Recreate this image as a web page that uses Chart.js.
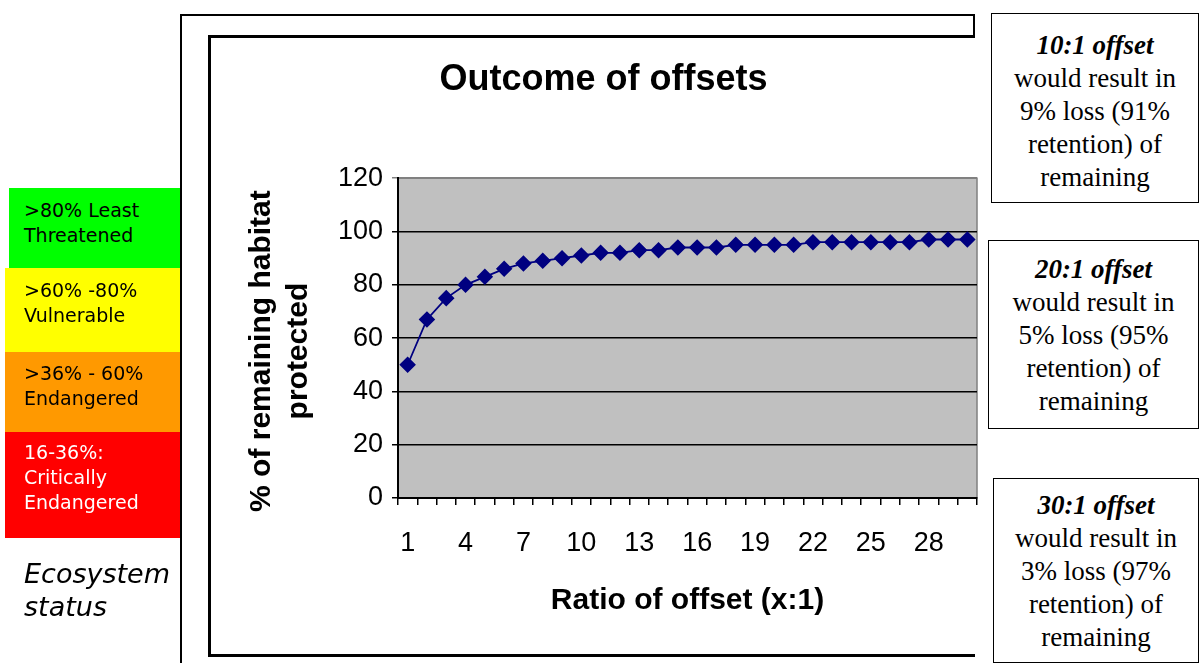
<!DOCTYPE html>
<html>
<head>
<meta charset="utf-8">
<script src="https://cdn.jsdelivr.net/npm/chart.js@4.4.0/dist/chart.umd.min.js"></script>
<style>
  html, body { margin: 0; padding: 0; background: #fff; }
  body { width: 1199px; height: 663px; position: relative; overflow: hidden; }
  #chart { position: absolute; left: 0; top: 0; z-index: 2; }
  .line { position: absolute; background: #000; z-index: 1; }
  .status { position: absolute; left: 5px; width: 175px; box-sizing: border-box; padding-left: 19px;
    font-family: "DejaVu Sans", "Open Sans", sans-serif; font-size: 19px; line-height: 25px; color: #000; z-index: 3; }
  .eco { position: absolute; left: 24px; top: 557px; font-family: "DejaVu Sans", "Open Sans", sans-serif;
    font-style: italic; font-size: 27px; line-height: 33px; z-index: 3; }
  .note { position: absolute; border: 1.5px solid #000; background: #fff; box-sizing: border-box; text-align: center;
    font-family: "Liberation Serif", "Times New Roman", serif; font-size: 27px; line-height: 33px; z-index: 3; }
  .note i { font-weight: bold; }
</style>
</head>
<body>
<div class="line" style="left:180px; top:14px; width:1.5px; height:649px;"></div>
<div class="line" style="left:180px; top:14px; width:795px; height:1.5px;"></div>
<div class="line" style="left:973px; top:14px; width:1.5px; height:23px;"></div>
<div class="line" style="left:208px; top:35px; width:3px; height:622px;"></div>
<div class="line" style="left:208px; top:35px; width:767px; height:3px;"></div>
<div class="line" style="left:208px; top:654px; width:767px; height:3px;"></div>

<div class="status" style="left:9px; width:171px; top:188px; height:81px; background:#00ff00; padding-left:15px; padding-top:10px;">&gt;80% Least<br>Threatened</div>
<div class="status" style="top:268px; height:84px; background:#ffff00; padding-top:10px;">&gt;60% -80%<br>Vulnerable</div>
<div class="status" style="top:352px; height:80px; background:#ff9900; padding-top:9px;">&gt;36% - 60%<br>Endangered</div>
<div class="status" style="top:432px; height:106px; background:#ff0000; color:#fff; padding-top:8px;">16-36%:<br>Critically<br>Endangered</div>
<div class="eco">Ecosystem<br>status</div>

<div class="note" style="left:991px; top:13px; width:208px; height:190px; padding-top:15px;"><i>10:1 offset</i><br>would result in<br>9% loss (91%<br>retention) of<br>remaining</div>
<div class="note" style="left:988px; top:240px; width:211px; height:189px; padding-top:12px;"><i>20:1 offset</i><br>would result in<br>5% loss (95%<br>retention) of<br>remaining</div>
<div class="note" style="left:993px; top:478px; width:206px; height:185px; padding-top:10px;"><i>30:1 offset</i><br>would result in<br>3% loss (97%<br>retention) of<br>remaining</div>

<canvas id="chart" width="1199" height="663"></canvas>
<script>
// values
const ratios = ['1','2','3','4','5','6','7','8','9','10','11','12','13','14','15',
  '16','17','18','19','20','21','22','23','24','25','26','27','28','29','30'];
const protectedPct = [50, 67, 75, 80, 83, 86, 88, 89, 90, 91, 92, 92, 93, 93, 94,
  94, 94, 95, 95, 95, 95, 96, 96, 96, 96, 96, 96, 97, 97, 97];
const yTicks = [0, 20, 40, 60, 80, 100, 120];
const yTitle = ['% of remaining habitat', 'protected'];

const FONT = '"Liberation Sans", Arial, sans-serif';
Chart.defaults.font.family = FONT;
Chart.defaults.color = '#000';

const plotBg = {
  id: 'plotBg',
  beforeDraw(chart) {
    const a = chart.chartArea, ctx = chart.ctx;
    ctx.save();
    ctx.fillStyle = '#c0c0c0';
    ctx.fillRect(a.left, a.top, a.right - a.left, a.bottom - a.top);
    ctx.strokeStyle = '#808080';
    ctx.lineWidth = 1.5;
    ctx.strokeRect(a.left, a.top, a.right - a.left, a.bottom - a.top);
    ctx.restore();
  }
};

// y axis title, sits a little below the plot's middle like the original
const yAxisTitle = {
  id: 'yAxisTitle',
  afterDraw(chart) {
    const a = chart.chartArea, ctx = chart.ctx;
    const cy = (a.top + a.bottom) / 2 + 13;
    ctx.save();
    ctx.font = 'bold 30px ' + FONT;
    ctx.fillStyle = '#000';
    ctx.textAlign = 'center';
    ctx.textBaseline = 'middle';
    yTitle.forEach((t, i) => {
      ctx.save();
      ctx.translate(a.left - 136 + i * 37, cy);
      ctx.rotate(-Math.PI / 2);
      ctx.fillText(t, 0, 0);
      ctx.restore();
    });
    ctx.restore();
  }
};

new Chart(document.getElementById('chart'), {
  type: 'line',
  data: {
    labels: ratios,
    datasets: [{
      data: protectedPct,
      borderColor: '#000080',
      backgroundColor: '#000080',
      borderWidth: 1.8,
      pointStyle: 'rectRot',
      pointRadius: 7,
      pointHoverRadius: 7,
      tension: 0
    }]
  },
  options: {
    responsive: false,
    animation: false,
    layout: { padding: { left: 230, right: 222, top: 50, bottom: 40 } },
    plugins: {
      legend: { display: false },
      tooltip: { enabled: false },
      title: {
        display: true,
        text: 'Outcome of offsets',
        color: '#000',
        font: { size: 36, weight: 'bold' },
        padding: { top: 8, bottom: 77 }
      }
    },
    scales: {
      x: {
        offset: true,
        afterFit(s) { s.height = 125; },
        grid: { offset: true, drawOnChartArea: false, tickLength: 7, color: '#000', lineWidth: 1.5 },
        border: { color: '#000', width: 2 },
        ticks: {
          autoSkip: false, maxRotation: 0, padding: 22,
          font: { size: 27 },
          callback(v, i) { return i % 3 === 0 ? ratios[i] : ''; }
        },
        title: {
          display: true, text: 'Ratio of offset (x:1)',
          font: { size: 30, weight: 'bold' },
          padding: { top: 0, bottom: 4 }
        }
      },
      y: {
        min: 0, max: 120,
        afterFit(s) { s.width = 168; },
        afterBuildTicks(s) { s.ticks = yTicks.map(v => ({ value: v })); },
        grid: {
          tickLength: 6, lineWidth: 1.5,
          color: c => (c.tick && c.tick.value === 120 ? '#808080' : '#000')
        },
        border: { color: '#000', width: 2 },
        ticks: { font: { size: 27 }, padding: 9 }
      }
    }
  },
  plugins: [plotBg, yAxisTitle]
});
</script>
</body>
</html>
